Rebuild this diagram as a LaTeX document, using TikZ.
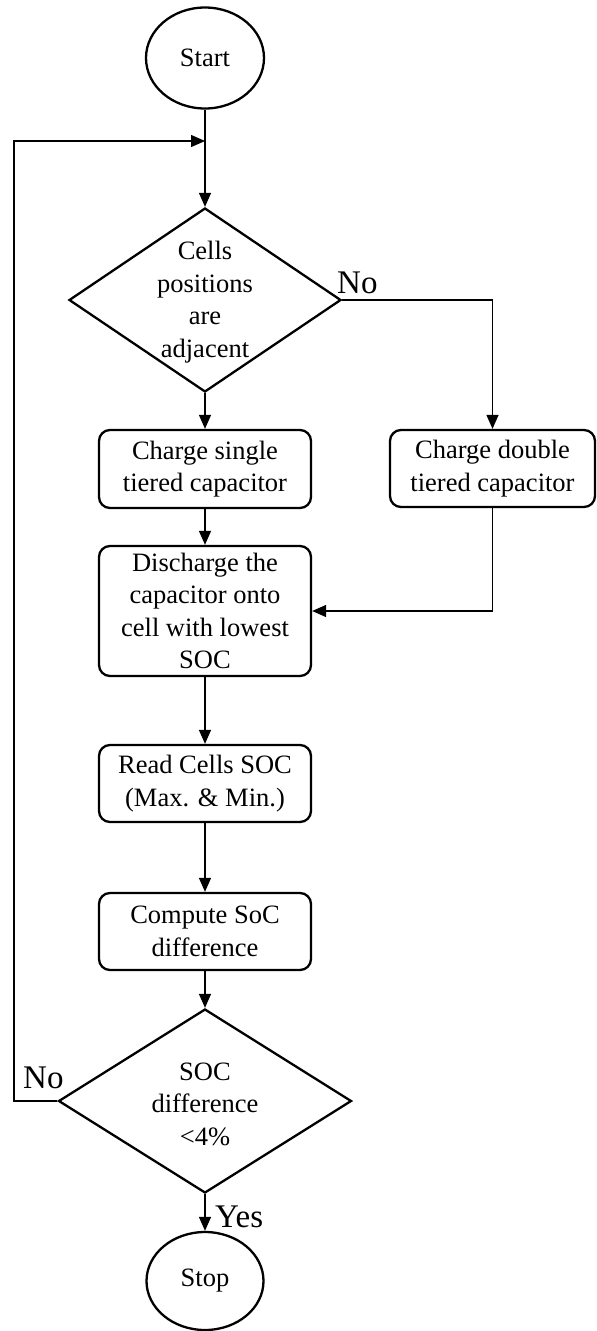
\documentclass[tikz,border=0pt]{standalone}
\usepackage{fontspec}
\setmainfont{Liberation Serif}
\usetikzlibrary{shapes.geometric,arrows.meta}
\begin{document}
\begin{tikzpicture}[x=1pt,y=1pt,
  font=\fontsize{26.5}{32.5}\selectfont,
  shp/.style={draw=black,line width=2.3pt},
  procbox/.style={shp,rectangle,rounded corners=11pt,minimum width=212pt,inner sep=0pt,align=center},
  term/.style={shp,ellipse,inner sep=0pt,minimum width=118pt,minimum height=101pt},
  dec/.style={shp,diamond,inner sep=0pt},
  dectext/.style={align=center,inner sep=0pt},
  conn/.style={line width=1.3pt,-{Triangle[length=14pt,width=12pt]}},
  lbl/.style={font=\fontsize{33}{38}\selectfont,inner sep=0pt}
]
\useasboundingbox (0,0) rectangle (597,-1331);
% nodes
\node[term] (start) at (205,-58) {Start};
\coordinate (join) at (205,-141);
\node[dec,minimum width=272pt,minimum height=184pt] (d1) at (205,-300) {};
\node[dectext] (d1t) at (205,-302) {Cells\\positions\\are\\adjacent};
\node[procbox,minimum height=78pt] (b1) at (205,-469) {Charge single\\tiered capacitor};
\node[procbox,minimum width=205pt,minimum height=77pt] (b2) at (492.5,-468.5) {Charge double\\tiered capacitor};
\node[procbox,minimum height=130pt] (b3) at (205,-611) {Discharge the\\capacitor onto\\cell with lowest\\SOC};
\node[procbox,minimum height=77pt] (b4) at (205,-783.5) {Read Cells SOC\\(Max. \& Min.)};
\node[procbox,minimum height=77pt] (b5) at (205,-931.5) {Compute SoC\\difference};
\node[dec,minimum width=293pt,minimum height=184pt] (d2) at (205,-1101) {};
\node[dectext] (d2t) at (205,-1104) {SOC\\difference\\<4\%};
\node[term,minimum width=117pt,minimum height=98pt] (stop) at (205,-1281) {Stop};
\coordinate (fbL) at (14,-1101);
\coordinate (fbT) at (14,-141);
% labels
\node[lbl,anchor=base west] (no1) at (337,-293) {No};
\node[lbl,anchor=base west] (no2) at (23,-1088) {No};
\node[lbl,anchor=base west] (yes) at (215,-1227) {Yes};
% connectors
\draw[conn] (start.south) -- (d1.north);
\draw[conn] (d1.south) -- (b1.north);
\draw[conn] (d1.east) -| (b2.north);
\draw[conn] (b1.south) -- (b3.north);
\draw[conn] (b2.south) |- (b3.east);
\draw[conn] (b3.south) -- (b4.north);
\draw[conn] (b4.south) -- (b5.north);
\draw[conn] (b5.south) -- (d2.north);
\draw[conn] (d2.south) -- (stop.north);
\draw[conn] (d2.west) -- (fbL) -- (fbT) -- (join);
\end{tikzpicture}
\end{document}
